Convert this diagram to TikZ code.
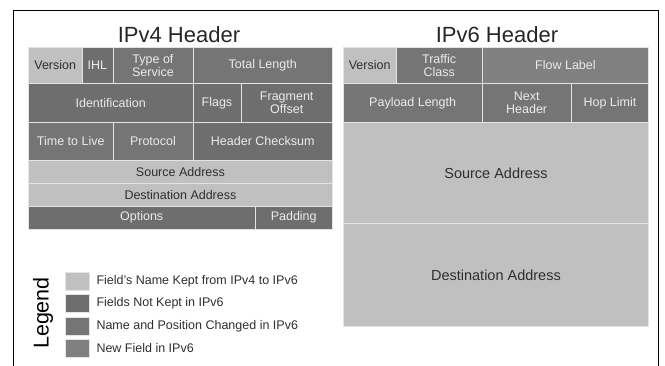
\documentclass[tikz,border=0pt]{standalone}
\usepackage{fontspec}
\setmainfont{Liberation Sans}
\usetikzlibrary{positioning}

\definecolor{keptgray}{HTML}{C0C0C0}
\definecolor{dropgray}{HTML}{6E6E6E}
\definecolor{movegray}{HTML}{757575}
\definecolor{newgray}{HTML}{808080}
\definecolor{rulegray}{HTML}{E4E4E4}
\definecolor{inkgray}{HTML}{2E2E2E}

\tikzset{
  field/.style={draw=rulegray, line width=0.9pt, anchor=north west, inner sep=1pt,
    align=center, font=\fontsize{12.5}{13}\selectfont},
  kept/.style={field, fill=keptgray, text=inkgray},
  bigkept/.style={kept, font=\fontsize{14.5}{15}\selectfont},
  dropped/.style={field, fill=dropgray, text=white!92!black},
  moved/.style={field, fill=movegray, text=white!92!black},
  added/.style={field, fill=newgray, text=white!92!black},
  hdrtitle/.style={font=\fontsize{22}{22}\selectfont, text=black!85, anchor=base},
  swatch/.style={minimum width=24pt, minimum height=18pt, inner sep=0pt,
    draw=rulegray, line width=0.6pt},
  keytext/.style={right=6pt of #1, inner sep=1pt, text=inkgray,
    font=\fontsize{12.5}{13}\selectfont}
}

\begin{document}
\begin{tikzpicture}[x=1pt,y=-1pt]
  \useasboundingbox (0,0) rectangle (665,365);
  % open frame, bottom edge runs off the page
  \draw[line width=1pt] (13,380) -- (13,10) -- (658,10) -- (658,380);

  \node[hdrtitle] (v4title) at (179,42) {IPv4 Header};
  \node[hdrtitle] (v6title) at (497,42) {IPv6 Header};

  % IPv4 fields: name/x/y/width/height/kind/text
  \foreach \n/\x/\y/\w/\h/\s/\t in {
      v4ver/28/46.7/53.5/36.6/kept/Version,
      v4ihl/81.5/46.7/31/36.6/dropped/IHL,
      v4tos/112.5/46.7/80/36.6/moved/{Type of\\Service},
      v4len/192.5/46.7/139.5/36.6/moved/Total Length,
      v4id/28/83.3/164.5/38.4/dropped/Identification,
      v4flg/192.5/83.3/48/38.4/dropped/Flags,
      v4frag/240.5/83.3/91.5/38.4/dropped/{Fragment\\Offset},
      v4ttl/28/121.7/84.5/38.3/moved/Time to Live,
      v4pro/112.5/121.7/80/38.3/moved/Protocol,
      v4chk/192.5/121.7/139.5/38.3/dropped/Header Checksum,
      v4src/28/160/304/23.3/kept/Source Address,
      v4dst/28/183.3/304/22.7/kept/Destination Address,
      v4opt/28/206/226.5/22.5/dropped/Options,
      v4pad/254.5/206/77.5/22.5/dropped/Padding} {
    \node[\s, minimum width=\w pt, minimum height=\h pt] (\n) at (\x,\y) {\t};
  }

  % IPv6 fields
  \foreach \n/\x/\y/\w/\h/\s/\t in {
      v6ver/342.7/46.7/53/36.6/kept/Version,
      v6tc/395.7/46.7/86/36.6/moved/{Traffic\\Class},
      v6flow/481.7/46.7/166.6/36.6/added/Flow Label,
      v6len/342.7/83.3/139/38.4/moved/Payload Length,
      v6nxt/481.7/83.3/89/38.4/moved/{Next\\Header},
      v6hop/570.7/83.3/77.6/38.4/moved/Hop Limit,
      v6src/342.7/121.7/305.6/101.6/bigkept/Source Address,
      v6dst/342.7/223.3/305.6/102.7/bigkept/Destination Address} {
    \node[\s, minimum width=\w pt, minimum height=\h pt] (\n) at (\x,\y) {\t};
  }

  % legend
  \node[rotate=90, text=black, font=\fontsize{21.5}{22}\selectfont] (legend) at (43,313) {Legend};
  \node[swatch, fill=keptgray] (sw1) at (77,281) {};
  \node[swatch, fill=dropgray] (sw2) at (77,303.5) {};
  \node[swatch, fill=movegray] (sw3) at (77,326) {};
  \node[swatch, fill=newgray]  (sw4) at (77,348.5) {};
  \node[keytext=sw1] (key1) {Field's Name Kept from IPv4 to IPv6};
  \node[keytext=sw2] (key2) {Fields Not Kept in IPv6};
  \node[keytext=sw3] (key3) {Name and Position Changed in IPv6};
  \node[keytext=sw4] (key4) {New Field in IPv6};
\end{tikzpicture}
\end{document}
